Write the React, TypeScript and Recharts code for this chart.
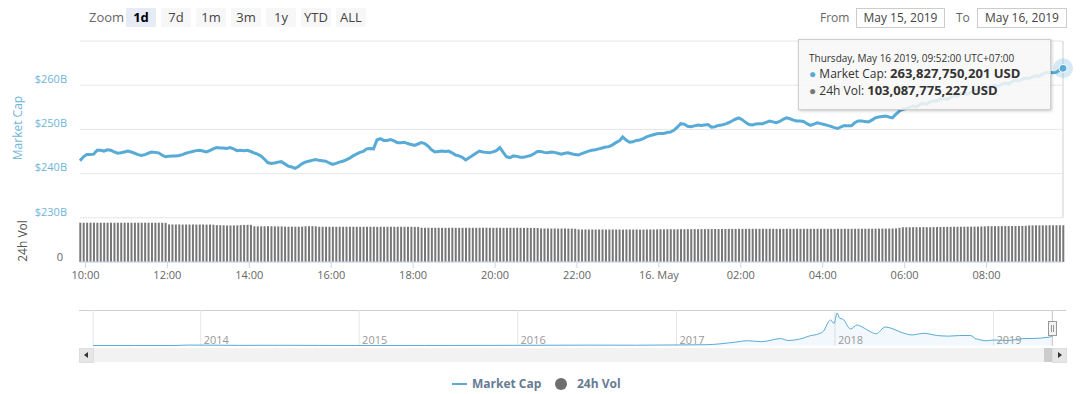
import React from "react";
import {
  ComposedChart,
  Line,
  Bar,
  XAxis,
  YAxis,
  CartesianGrid,
  ReferenceLine,
  ReferenceDot,
  AreaChart,
  Area,
} from "recharts";

// minutes since 00:00 May 15 (UTC+7); one point every 5 minutes
const START_MIN = 592;
const STEP_MIN = 5;

// market cap, billions USD (one row = one hour)
const marketCapB = [
  242.9, 243.8, 244.3, 244.3, 244.4, 245.3, 245.3, 245.1, 245.4, 245.3, 244.9, 244.6,
  244.7, 244.9, 245.1, 244.9, 244.6, 244.3, 244.1, 244.3, 244.6, 244.9, 244.8, 244.7,
  244.2, 243.8, 243.9, 244.0, 244.0, 244.1, 244.3, 244.6, 244.8, 245.0, 245.2, 245.3,
  245.1, 244.9, 245.2, 245.6, 245.9, 245.8, 245.8, 245.7, 245.9, 245.6, 245.2, 245.3,
  245.2, 245.3, 245.0, 244.7, 244.4, 244.0, 243.3, 242.5, 242.3, 242.4, 242.6, 242.7,
  242.2, 241.7, 241.5, 241.2, 241.6, 242.2, 242.6, 242.8, 243.0, 243.2, 243.0, 242.9,
  242.8, 242.4, 242.1, 242.3, 242.6, 242.8, 243.1, 243.5, 244.0, 244.4, 244.8, 245.0,
  245.6, 245.7, 245.6, 247.6, 247.9, 247.5, 247.5, 247.7, 247.4, 247.0, 247.0, 247.1,
  246.8, 246.6, 246.4, 246.7, 247.0, 246.8, 246.2, 245.4, 244.9, 245.0, 245.1, 245.0,
  245.1, 244.7, 244.2, 244.0, 243.7, 243.1, 243.6, 244.1, 244.6, 245.1, 244.9, 244.8,
  244.7, 244.9, 245.2, 245.9, 244.8, 243.8, 243.6, 244.0, 243.9, 243.7, 243.7, 243.9,
  244.1, 244.5, 245.0, 245.0, 244.8, 244.7, 244.9, 244.8, 244.6, 244.4, 244.6, 244.7,
  244.5, 244.3, 244.2, 244.5, 244.8, 245.1, 245.3, 245.4, 245.6, 245.8, 246.0, 246.1,
  246.5, 247.0, 247.4, 248.3, 247.6, 247.1, 247.2, 247.5, 247.6, 247.9, 248.3, 248.6,
  248.8, 249.0, 249.1, 249.1, 249.3, 249.4, 249.8, 250.5, 251.3, 251.2, 250.7, 250.6,
  250.8, 251.0, 250.9, 251.0, 251.1, 250.5, 250.6, 250.9, 251.0, 251.2, 251.5, 251.9,
  252.3, 252.6, 252.2, 251.6, 251.1, 251.0, 251.2, 251.3, 251.3, 251.6, 251.9, 251.7,
  251.5, 251.8, 252.3, 252.6, 252.4, 252.1, 251.9, 251.9, 251.8, 251.3, 250.9, 251.2,
  251.5, 251.3, 251.1, 250.9, 250.7, 250.4, 250.2, 250.6, 250.9, 250.8, 250.8, 251.5,
  251.9, 251.9, 251.8, 251.7, 252.1, 252.6, 252.8, 252.9, 253.0, 252.8, 252.6, 253.4,
  254.1, 254.5, 254.7, 255.0, 255.3, 255.1, 255.6, 255.9, 255.7, 256.2, 256.5, 256.4,
  256.9, 257.0, 256.8, 257.2, 257.6, 257.5, 258.0, 258.2, 258.0, 258.4, 258.8, 258.7,
  259.1, 259.4, 259.2, 259.7, 260.0, 259.8, 260.2, 260.5, 260.3, 260.8, 261.1, 260.9,
  261.3, 261.6, 261.5, 261.8, 262.2, 262.0, 262.5, 262.8, 262.9, 262.8, 262.9, 263.4,
  263.827750201,
];

// 24h volume, billions USD (one row = one hour)
const volumeB = [
  110.2, 110.0, 110.1, 110.3, 110.2, 110.0, 110.1, 110.2, 110.3, 110.1, 110.0, 110.2,
  110.1, 110.3, 110.2, 110.0, 110.1, 110.2, 110.1, 110.3, 110.2, 110.0, 110.1, 110.2,
  110.0, 109.8, 105.3, 105.2, 105.1, 105.3, 105.0, 105.2, 105.1, 105.3, 105.0, 105.1,
  105.2, 104.9, 105.0, 104.6, 103.4, 103.2, 103.1, 102.6, 102.4, 102.5, 102.8, 103.5,
  104.0, 104.2, 104.1, 100.3, 100.1, 100.0, 100.2, 100.4, 100.1, 100.0, 99.8, 99.9,
  99.2, 99.0, 99.1, 98.9, 99.0, 99.3, 100.2, 100.4, 100.5, 100.1, 99.0, 98.9,
  98.8, 98.9, 98.7, 98.8, 99.0, 98.8, 98.9, 98.7, 98.8, 98.9, 98.8, 98.7,
  98.8, 98.9, 98.8, 98.7, 98.9, 98.8, 98.8, 98.9, 98.7, 98.8, 98.9, 98.8,
  98.7, 98.8, 98.6, 98.4, 96.2, 96.0, 96.1, 95.9, 96.0, 96.1, 95.8, 95.9,
  96.0, 96.1, 95.9, 96.0, 95.8, 95.9, 96.1, 96.0, 95.9, 96.0, 96.2, 96.1,
  96.0, 95.9, 96.1, 96.0, 95.8, 95.9, 96.0, 95.9, 96.1, 96.0, 95.8, 95.9,
  95.7, 95.6, 95.4, 94.2, 94.0, 94.1, 93.9, 94.0, 93.8, 93.9, 94.0, 93.8,
  93.6, 93.2, 91.4, 91.2, 91.3, 91.1, 91.2, 91.0, 91.3, 91.2, 91.1, 91.2,
  91.3, 91.1, 91.2, 91.0, 91.2, 91.3, 91.1, 91.2, 91.0, 91.1, 91.3, 91.2,
  91.4, 91.6, 91.8, 91.7, 91.9, 92.0, 91.8, 91.9, 92.1, 92.0, 92.2, 92.1,
  92.3, 92.2, 92.4, 92.3, 92.5, 92.4, 92.6, 92.5, 92.7, 92.6, 92.8, 92.7,
  93.0, 93.1, 92.9, 93.0, 93.2, 93.1, 93.0, 92.9, 93.1, 93.0, 93.2, 93.1,
  93.0, 93.1, 92.9, 93.2, 93.1, 93.0, 93.1, 92.9, 93.0, 93.2, 93.1, 93.0,
  93.1, 93.0, 93.2, 93.1, 93.0, 92.9, 93.1, 93.0, 93.2, 93.1, 93.0, 93.3,
  93.2, 93.4, 93.3, 93.5, 93.4, 93.6, 93.5, 93.7, 93.6, 93.8, 93.9, 94.3,
  95.8, 97.4, 97.6, 97.5, 97.7, 97.6, 97.5, 97.8, 97.6, 97.7, 97.9, 98.0,
  98.2, 98.4, 98.6, 98.5, 98.8, 98.7, 98.9, 99.0, 99.2, 99.1, 99.3, 99.4,
  99.6, 99.8, 100.4, 100.5, 100.6, 100.5, 100.7, 100.8, 100.7, 100.9, 101.0, 101.1,
  101.3, 101.5, 102.6, 102.8, 102.9, 102.8, 103.0, 102.9, 103.1, 103.0, 103.1, 103.0,
  103.087775227,
];

const timeTicks = [600, 720, 840, 960, 1080, 1200, 1320, 1440, 1560, 1680, 1800, 1920];
const capTicks = [230, 240, 250, 260, 270];
const volTicks = [0];

// navigator: whole history
const navDates = [
  "2013-04-28", "2013-08-01", "2013-11-01", "2013-12-04", "2014-01-15", "2014-04-01",
  "2014-07-01", "2014-10-01", "2015-01-15", "2015-06-01", "2015-11-05", "2016-01-01",
  "2016-06-15", "2016-10-01", "2017-01-05", "2017-03-10", "2017-05-18", "2017-06-13",
  "2017-07-16", "2017-08-29", "2017-09-15", "2017-10-20", "2017-11-03", "2017-11-25",
  "2017-12-06", "2017-12-17", "2017-12-22", "2017-12-30", "2018-01-06", "2018-01-12",
  "2018-01-19", "2018-02-06", "2018-02-21", "2018-03-05", "2018-03-25", "2018-04-06",
  "2018-04-27", "2018-05-10", "2018-06-07", "2018-06-28", "2018-07-12", "2018-07-25",
  "2018-08-25", "2018-09-20", "2018-10-15", "2018-11-10", "2018-11-20", "2018-12-01",
  "2018-12-15", "2019-01-01", "2019-02-05", "2019-03-10", "2019-04-02", "2019-05-11",
  "2019-05-16",
];
const navCapB = [
  1.5, 1.2, 2.5, 14, 11, 6,
  8, 5, 3, 3.4, 5.5, 7,
  12, 10, 17, 22, 90, 124,
  100, 177, 130, 190, 243, 300,
  369, 600, 647, 560, 824, 690,
  672, 420, 521, 470, 344, 300,
  470, 440, 319, 270, 293, 310,
  255, 240, 255, 255, 180, 149,
  120, 142, 130, 177, 180, 217,
  240,
];
const navYears = ["2014", "2015", "2016", "2017", "2018", "2019"];

const rangeButtons = ["1d", "7d", "1m", "3m", "1y", "YTD", "ALL"];

const CAP_COLOR = "#58abd6";
const VOL_COLOR = "#777777";

const rows = marketCapB.map((v, i) => ({ t: START_MIN + i * STEP_MIN, cap: v, vol: volumeB[i] }));
const lastRow = rows[rows.length - 1];
const navRows = navDates.map((d, i) => ({ t: Date.parse(d), cap: navCapB[i] }));
const navTicks = navYears.map((y) => Date.parse(y + "-01-01"));

const fmtTime = (m: number) => {
  if (m === 1440) return "16. May";
  const h = Math.floor((m % 1440) / 60);
  return (h < 10 ? "0" : "") + h + ":00";
};
const fmtUsd = (b: number) => Math.round(b * 1e9).toLocaleString("en-US") + " USD";

function CapTick(props: any) {
  const { y, payload } = props;
  if (payload.value === 270) return null;
  return (
    <text x={67} y={y - 6} dy="0.35em" textAnchor="end" fontSize={11} fill="#6fb4d9">
      {"$" + payload.value + "B"}
    </text>
  );
}

// the volume axis sits on the right, its label is drawn on the left like the reference
function VolTick(props: any) {
  const { y, payload } = props;
  return (
    <text x={63} y={y - 5} dy="0.35em" textAnchor="end" fontSize={11} fill="#666">
      {payload.value}
    </text>
  );
}

function NavTick(props: any) {
  const { x, payload } = props;
  return (
    <text x={x + 3} y={44} fontSize={11} fill="#999">
      {new Date(payload.value).getUTCFullYear()}
    </text>
  );
}

function Halo(props: any) {
  const { cx, cy } = props;
  return (
    <g>
      <circle cx={cx} cy={cy} r={10} fill={CAP_COLOR} fillOpacity={0.25} />
      <circle cx={cx} cy={cy} r={4} fill={CAP_COLOR} stroke="#fff" strokeWidth={1} />
    </g>
  );
}

const abs = (left: number, top: number, extra: React.CSSProperties = {}): React.CSSProperties => ({
  position: "absolute",
  left,
  top,
  ...extra,
});

export default function App() {
  return (
    <div
      style={{
        position: "absolute",
        left: 0,
        top: 0,
        width: 1080,
        height: 394,
        background: "#fff",
        overflow: "hidden",
        fontFamily: "'Open Sans', sans-serif",
      }}
    >
      {/* range selector */}
      <div style={abs(89, 8, { fontSize: 13, color: "#666", lineHeight: "19px" })}>Zoom</div>
      {rangeButtons.map((b, i) => (
        <div
          key={b}
          style={abs(126 + i * 35, 8, {
            width: 30,
            height: 19,
            lineHeight: "19px",
            textAlign: "center",
            fontSize: 13,
            background: i === 0 ? "#e6ebf5" : "#f7f7f7",
            color: i === 0 ? "#000" : "#444",
            fontWeight: i === 0 ? 700 : 400,
          })}
        >
          {b}
        </div>
      ))}

      {/* date inputs */}
      <div style={abs(820, 8, { fontSize: 12, color: "#666", lineHeight: "20px" })}>From</div>
      <div
        style={abs(856, 8, {
          width: 87,
          height: 18,
          border: "1px solid #ccc",
          fontSize: 12,
          color: "#444",
          lineHeight: "18px",
          textAlign: "center",
        })}
      >
        May 15, 2019
      </div>
      <div style={abs(956, 8, { fontSize: 12, color: "#666", lineHeight: "20px" })}>To</div>
      <div
        style={abs(977, 8, {
          width: 88,
          height: 18,
          border: "1px solid #ccc",
          fontSize: 12,
          color: "#444",
          lineHeight: "18px",
          textAlign: "center",
        })}
      >
        May 16, 2019
      </div>

      {/* main chart */}
      <div style={abs(0, 0)}>
        <ComposedChart width={1080} height={300} data={rows} margin={{ top: 41, right: 0, bottom: 8, left: 0 }}>
          <CartesianGrid yAxisId="cap" vertical={false} stroke="#e6e6e6" />
          <XAxis
            dataKey="t"
            type="number"
            domain={[START_MIN, lastRow.t]}
            ticks={timeTicks}
            tickFormatter={fmtTime}
            height={30}
            tickSize={6}
            tickMargin={3}
            stroke="#ccd6eb"
            tick={{ fill: "#666", fontSize: 11 }}
          />
          <YAxis
            yAxisId="cap"
            domain={[220, 270]}
            ticks={capTicks}
            width={80}
            axisLine={false}
            tickLine={false}
            tick={<CapTick />}
          />
          <YAxis
            yAxisId="vol"
            orientation="right"
            domain={[0, 620]}
            ticks={volTicks}
            width={17}
            axisLine={false}
            tickLine={false}
            tick={<VolTick />}
          />
          <Bar yAxisId="vol" dataKey="vol" fill={VOL_COLOR} barSize={2} isAnimationActive={false} />
          <Line
            yAxisId="cap"
            type="linear"
            dataKey="cap"
            stroke={CAP_COLOR}
            strokeWidth={3}
            dot={false}
            isAnimationActive={false}
          />
          <ReferenceLine
            yAxisId="cap"
            segment={[
              { x: lastRow.t, y: 230 },
              { x: lastRow.t, y: 270 },
            ]}
            stroke="#d0d0d0"
          />
          <ReferenceDot yAxisId="cap" x={lastRow.t} y={lastRow.cap} r={4} shape={<Halo />} />
        </ComposedChart>
      </div>

      {/* axis titles */}
      <div
        style={abs(17, 128, {
          transform: "translate(-50%, -50%) rotate(-90deg)",
          fontSize: 12,
          color: "#6fb4d9",
          whiteSpace: "nowrap",
        })}
      >
        Market Cap
      </div>
      <div
        style={abs(22, 241, {
          transform: "translate(-50%, -50%) rotate(-90deg)",
          fontSize: 12,
          color: "#555",
          whiteSpace: "nowrap",
        })}
      >
        24h Vol
      </div>

      {/* tooltip */}
      <div
        style={abs(798, 39, {
          width: 241,
          height: 57,
          background: "rgba(247,247,247,0.85)",
          border: "1px solid #cfcfcf",
          boxShadow: "1px 1px 3px rgba(0,0,0,0.22)",
          padding: "12px 0 0 10px",
          boxSizing: "content-box",
          color: "#333",
          whiteSpace: "nowrap",
        })}
      >
        <div style={{ fontSize: 10, lineHeight: "13px" }}>Thursday, May 16 2019, 09:52:00 UTC+07:00</div>
        <div style={{ fontSize: 12, lineHeight: "16px" }}>
          <span style={{ color: CAP_COLOR }}>●</span> Market Cap: <b style={{ fontSize: 13 }}>{fmtUsd(lastRow.cap)}</b>
        </div>
        <div style={{ fontSize: 12, lineHeight: "16px" }}>
          <span style={{ color: VOL_COLOR }}>●</span> 24h Vol: <b style={{ fontSize: 13 }}>{fmtUsd(lastRow.vol)}</b>
        </div>
      </div>

      {/* navigator */}
      <div style={abs(79, 310, { width: 987, height: 1, background: "#cfcfcf" })} />
      <div style={abs(0, 300)}>
        <AreaChart width={1080} height={50} data={navRows} margin={{ top: 10, right: 28, bottom: 0, left: 93 }}>
          <CartesianGrid horizontal={false} stroke="#e6e6e6" />
          <XAxis
            dataKey="t"
            type="number"
            domain={[navRows[0].t, navRows[navRows.length - 1].t]}
            ticks={navTicks}
            height={4}
            axisLine={false}
            tickLine={false}
            tick={<NavTick />}
          />
          <YAxis hide domain={[-10, 900]} />
          <Area
            type="monotone"
            dataKey="cap"
            stroke={CAP_COLOR}
            strokeWidth={1}
            fill={CAP_COLOR}
            fillOpacity={0.08}
            isAnimationActive={false}
          />
        </AreaChart>
      </div>
      <div style={abs(1052, 310, { width: 1, height: 36, background: "#cfcfcf" })} />
      <div
        style={abs(1048, 321, {
          width: 7,
          height: 13,
          background: "#f2f2f2",
          border: "1px solid #999",
        })}
      >
        <div style={abs(2, 3, { width: 1, height: 7, background: "#999" })} />
        <div style={abs(4, 3, { width: 1, height: 7, background: "#999" })} />
      </div>

      {/* scrollbar */}
      <div style={abs(79, 348, { width: 987, height: 14, background: "#f2f2f2" })} />
      <div style={abs(79, 348, { width: 13, height: 13, background: "#e6e6e6", border: "1px solid #ddd" })}>
        <div
          style={abs(4, 3, {
            width: 0,
            height: 0,
            borderTop: "3px solid transparent",
            borderBottom: "3px solid transparent",
            borderRight: "4px solid #333",
          })}
        />
      </div>
      <div style={abs(1044, 348, { width: 8, height: 14, background: "#cccccc" })} />
      <div style={abs(1052, 348, { width: 13, height: 13, background: "#e6e6e6", border: "1px solid #ddd" })}>
        <div
          style={abs(5, 3, {
            width: 0,
            height: 0,
            borderTop: "3px solid transparent",
            borderBottom: "3px solid transparent",
            borderLeft: "4px solid #333",
          })}
        />
      </div>

      {/* legend */}
      <div style={abs(452, 383, { width: 15, height: 2, background: CAP_COLOR })} />
      <div style={abs(472, 376, { fontSize: 12, fontWeight: 700, color: "#667c94", lineHeight: "16px" })}>
        Market Cap
      </div>
      <div style={abs(555, 378, { width: 12, height: 12, borderRadius: 6, background: "#6e6e6e" })} />
      <div style={abs(577, 376, { fontSize: 12, fontWeight: 700, color: "#667c94", lineHeight: "16px" })}>
        24h Vol
      </div>
    </div>
  );
}
